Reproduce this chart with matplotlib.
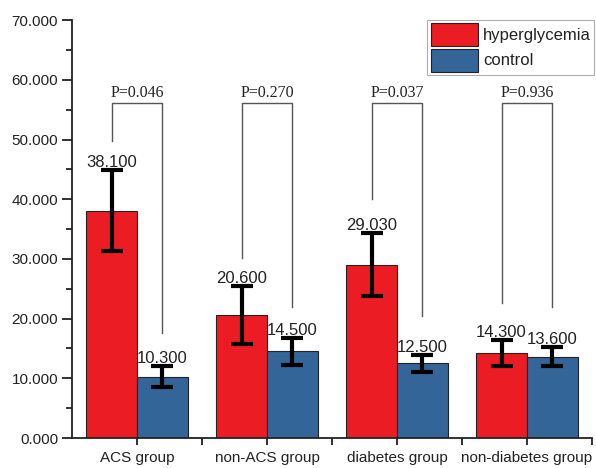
import matplotlib.pyplot as plt
from matplotlib.ticker import MultipleLocator, FormatStrFormatter, FixedLocator
import numpy as np

groups = ["ACS group", "non-ACS group", "diabetes group", "non-diabetes group"]
hyper_mean = [38.100, 20.600, 29.030, 14.300]
hyper_err = [6.8, 4.8, 5.3, 2.2]
control_mean = [10.300, 14.500, 12.500, 13.600]
control_err = [1.8, 2.2, 1.4, 1.6]
p_labels = ["P=0.046", "P=0.270", "P=0.037", "P=0.936"]
bracket_top = [56.1, 56.1, 56.1, 56.1]
bracket_left_end = [49.7, 30.1, 40.0, 22.6]
bracket_right_end = [17.6, 21.9, 20.4, 21.9]

red = "#ec1c24"
blue = "#336598"
text_col = "#222222"

plt.rcParams["font.family"] = ["Liberation Sans", "DejaVu Sans"]

fig = plt.figure(figsize=(5.96, 4.68), dpi=100)
ax = fig.add_axes([0.121, 0.064, 0.872, 0.893])

x = np.arange(len(groups))
w = 0.39
x_h = x - w / 2
x_c = x + w / 2

err_kw = dict(ecolor="black", elinewidth=3, capsize=8, capthick=3)
ax.bar(x_h, hyper_mean, w, color=red, edgecolor="#222222", linewidth=0.8,
       yerr=hyper_err, error_kw=err_kw, label="hyperglycemia", zorder=2)
ax.bar(x_c, control_mean, w, color=blue, edgecolor="#222222", linewidth=0.8,
       yerr=control_err, error_kw=err_kw, label="control", zorder=2)

# value labels above the error caps
for xs, ms, es in [(x_h, hyper_mean, hyper_err), (x_c, control_mean, control_err)]:
    for xi, m, e in zip(xs, ms, es):
        ax.annotate(f"{m:.3f}", (xi, m + e), xytext=(0, 0), textcoords="offset points",
                    ha="center", va="bottom", fontsize=12, color=text_col)

# significance brackets
for i in range(len(groups)):
    ax.plot([x_h[i], x_h[i], x_c[i], x_c[i]],
            [bracket_left_end[i], bracket_top[i], bracket_top[i], bracket_right_end[i]],
            color="#555555", lw=1, zorder=1)
    ax.text(x[i], bracket_top[i] + 0.4, p_labels[i], ha="center", va="bottom",
            fontsize=11.5, family="Liberation Serif", color=text_col)

ax.set_xlim(-0.5, 3.5)
ax.set_ylim(0, 70)
ax.yaxis.set_major_locator(MultipleLocator(10))
ax.yaxis.set_minor_locator(MultipleLocator(5))
ax.yaxis.set_major_formatter(FormatStrFormatter("%.3f"))
ax.set_xticks(x)
ax.set_xticklabels(groups)
ax.xaxis.set_minor_locator(FixedLocator([0.5, 1.5, 2.5, 3.5]))

for s in ["top", "right"]:
    ax.spines[s].set_visible(False)
for s in ["left", "bottom"]:
    ax.spines[s].set_linewidth(1.3)
    ax.spines[s].set_color("#222222")

ax.tick_params(axis="y", which="major", length=7, width=1.3, labelsize=11,
               colors="#222222", pad=3)
ax.tick_params(axis="y", which="minor", length=4, width=1.3, colors="#222222")
ax.tick_params(axis="x", which="both", length=5, width=1.3, labelsize=11,
               colors="#222222", pad=4)

leg = fig.legend(loc="upper right", bbox_to_anchor=(0.997, 0.958), fontsize=12,
                 frameon=True, fancybox=False, edgecolor="#999999",
                 handlelength=2.85, handleheight=1.75, handletextpad=0.3,
                 labelspacing=0.15, borderpad=0.2, borderaxespad=0)
leg.get_frame().set_linewidth(0.8)
for t in leg.get_texts():
    t.set_color(text_col)

fig.savefig("out.png", dpi=100)
